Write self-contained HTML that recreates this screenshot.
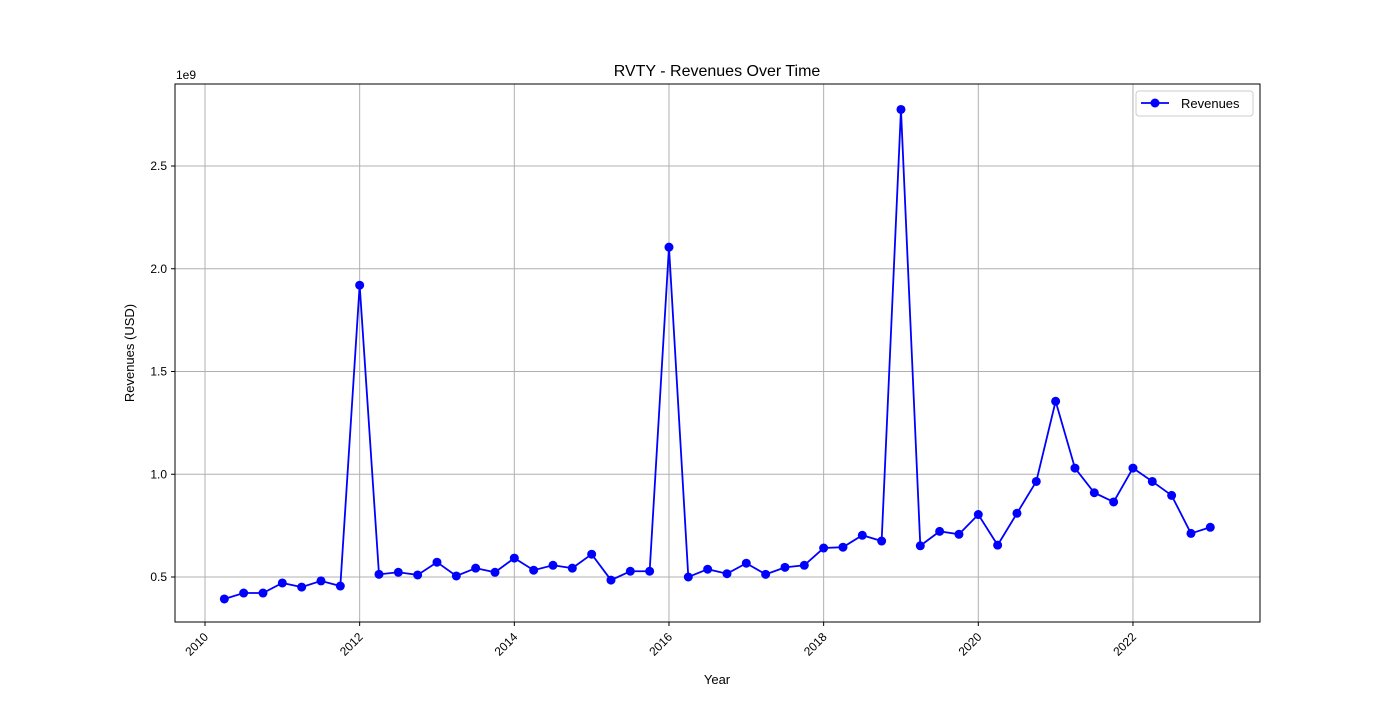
<!DOCTYPE html>
<html><head><meta charset="utf-8"><style>
body{margin:0;background:#fff;font-family:"Liberation Sans","DejaVu Sans",sans-serif}
svg text{font-family:"Liberation Sans","DejaVu Sans",sans-serif}
</style></head><body>
<svg id="c" width="1400" height="700" xmlns="http://www.w3.org/2000/svg"></svg>
<script>
const years=[2010,2012,2014,2016,2018,2020,2022];
const yTicks=[0.5,1.0,1.5,2.0,2.5];
const yTickLabels=["0.5","1.0","1.5","2.0","2.5"];
const startYear=2010.25;
const revenues=[0.393,0.422,0.422,0.471,0.451,0.481,0.456,
1.92,0.513,0.523,0.510,0.572,0.505,0.543,0.523,0.592,0.533,0.557,0.543,0.611,0.485,0.528,0.528,
2.105,0.50,0.538,0.516,0.567,0.513,0.547,0.557,0.641,0.645,0.703,0.675,
2.775,0.652,0.722,0.708,0.804,0.655,0.81,0.965,1.355,1.03,0.91,0.865,
1.03,0.965,0.897,0.712,0.742];
const svg=document.getElementById('c');const NS="http://www.w3.org/2000/svg";
const L=175,R=1260,T=84,B=622;
const xs=y=>205+(y-2010)*77.33;
const ys=v=>577-(v-0.5)*205.5;
function mk(t,a,p){const e=document.createElementNS(NS,t);for(const k in a)e.setAttribute(k,a[k]);(p||svg).appendChild(e);return e;}
years.forEach(y=>{const g=mk('line',{x1:xs(y),x2:xs(y),y1:T,y2:B,stroke:'#b0b0b0','stroke-width':1});

mk('line',{x1:xs(y),x2:xs(y),y1:B,y2:B+4,stroke:'#000'});
const t=mk('text',{x:xs(y),y:B+14,'font-size':12,'text-anchor':'end',transform:`rotate(-45 ${xs(y)+4} ${B+10})`});t.textContent=y;
});
yTicks.forEach((v,i)=>{const g=mk('line',{x1:L,x2:R,y1:ys(v),y2:ys(v),stroke:'#b0b0b0','stroke-width':1});

mk('line',{x1:L-4,x2:L,y1:ys(v),y2:ys(v),stroke:'#000'});
const t=mk('text',{x:L-8,y:ys(v)+4,'font-size':12,'text-anchor':'end'});t.textContent=yTickLabels[i];
});
const fr=mk('rect',{x:L,y:T,width:R-L,height:B-T,fill:'none',stroke:'#000'});

const pts=revenues.map((v,i)=>[xs(startYear+i*0.25),ys(v)]);
const ln=mk('polyline',{points:pts.map(p=>p.join(',')).join(' '),fill:'none',stroke:'#0000ff','stroke-width':1.8});

pts.forEach(p=>{const c=mk('circle',{cx:p[0],cy:p[1],r:4.5,fill:'#0000ff'});
});
function txt(s,a,n){const t=mk('text',a);t.textContent=s;}
txt('RVTY - Revenues Over Time',{x:717,y:76,'font-size':16,'text-anchor':'middle'},'chart-title');
txt('1e9',{x:176,y:79,'font-size':12},'y-axis-offset');
txt('Year',{x:717,y:684,'font-size':13,'text-anchor':'middle'},'x-axis-title');
txt('Revenues (USD)',{x:134,y:353,'font-size':13,'text-anchor':'middle',transform:'rotate(-90 134 353)'},'y-axis-title');
const lg=mk('g',{});
mk('rect',{x:1136,y:91,width:117,height:25,rx:3,fill:'#fff',stroke:'#ccc'},lg);
mk('line',{x1:1141,x2:1169,y1:103,y2:103,stroke:'#0000ff','stroke-width':1.8},lg);
mk('circle',{cx:1155,cy:103,r:4.5,fill:'#0000ff'},lg);
const lt=mk('text',{x:1181,y:108,'font-size':13},lg);lt.textContent='Revenues';

</script>
</body></html>
